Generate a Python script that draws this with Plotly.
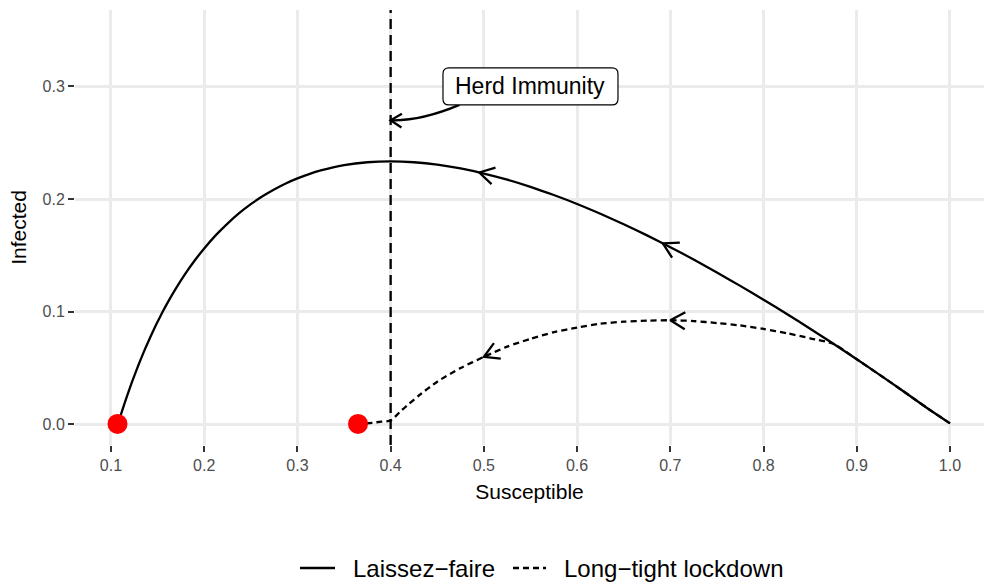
import numpy as np
import plotly.graph_objects as go

# ---------------- data ----------------
S_LF = [1.0, 0.975, 0.95, 0.925, 0.9, 0.875, 0.85, 0.825, 0.8, 0.775, 0.75, 0.725, 0.7,
        0.675, 0.65, 0.625, 0.6, 0.575, 0.55, 0.525, 0.5, 0.475, 0.45, 0.425, 0.4,
        0.375, 0.35, 0.325, 0.3125, 0.3, 0.2875, 0.275, 0.2625, 0.25, 0.2375, 0.225,
        0.2125, 0.2, 0.19, 0.18, 0.17, 0.16, 0.155, 0.15, 0.145, 0.14, 0.135, 0.13,
        0.125, 0.12, 0.115, 0.11, 0.107]
I_LF = [0.001, 0.0149, 0.0295, 0.0438, 0.0579, 0.0716, 0.0850, 0.0981, 0.1107, 0.1230,
        0.1349, 0.1464, 0.1573, 0.1678, 0.1777, 0.1870, 0.1957, 0.2036, 0.2109, 0.2173,
        0.2227, 0.2272, 0.2306, 0.2327, 0.2335, 0.2327, 0.2301, 0.2254, 0.2222, 0.2184,
        0.2139, 0.2086, 0.2025, 0.1955, 0.1875, 0.1783, 0.1680, 0.1562, 0.1457, 0.1341,
        0.1212, 0.1070, 0.0993, 0.0912, 0.0826, 0.0735, 0.0640, 0.0539, 0.0432, 0.0319,
        0.0199, 0.0071, 0.0005]

S_LD = [1.0, 0.975, 0.95, 0.925, 0.9, 0.875, 0.85, 0.825, 0.8, 0.775, 0.75, 0.725, 0.7,
        0.675, 0.65, 0.625, 0.6, 0.575, 0.55, 0.525, 0.5, 0.475, 0.45, 0.43, 0.42, 0.41,
        0.4, 0.39, 0.38, 0.365]
I_LD = [0.001, 0.0149, 0.0295, 0.0438, 0.0579, 0.0716, 0.0765, 0.0810, 0.0848, 0.0879,
        0.0900, 0.0918, 0.0925, 0.0921, 0.0912, 0.0894, 0.0860, 0.0819, 0.0760, 0.0691,
        0.0600, 0.0501, 0.0380, 0.0255, 0.0185, 0.0112, 0.0035, 0.0025, 0.0015, 0.0005]

ARROWS_LF = [0.495, 0.692]
ARROWS_LD = [0.700, 0.500]

SERIES_NAMES = ["Laissez\u2212faire", "Long\u2212tight lockdown"]
HERD_S = 0.4
HERD_LABEL = "Herd Immunity"
HERD_LABEL_POS = (0.55, 0.30)
HERD_TIP_I = 0.27

X_TICKS = [0.1, 0.2, 0.3, 0.4, 0.5, 0.6, 0.7, 0.8, 0.9, 1.0]
X_TICKTEXT = ["0.1", "0.2", "0.3", "0.4", "0.5", "0.6", "0.7", "0.8", "0.9", "1.0"]
Y_TICKS = [0.0, 0.1, 0.2, 0.3]
Y_TICKTEXT = ["0.0", "0.1", "0.2", "0.3"]

# ---------------- layout geometry ----------------
W, H = 984, 587
ML, MR, MT, MB = 75, 0, 10, 142
XR = [0.0614, 1.0365]
YR = [-0.0182, 0.3678]
PW, PH = W - ML - MR, H - MT - MB
SX = PW / (XR[1] - XR[0])   # px per x unit
SY = PH / (YR[1] - YR[0])   # px per y unit
LW = 2.3
DASH_LD = "6px,4px"

FONT = "Liberation Sans, Arial, Helvetica, sans-serif"


def px2paper(px, py):
    return (px - ML) / PW, (H - MB - py) / PH


def interp(S, I, s):
    S = np.asarray(S)
    I = np.asarray(I)
    o = np.argsort(S)
    return float(np.interp(s, S[o], I[o]))


def chevron(tx, ty, bx, by, length=17, angle=30):
    """tip (tx,ty) in data; (bx,by) a point behind the tip along the path."""
    vx = (bx - tx) * SX
    vy = -(by - ty) * SY
    n = np.hypot(vx, vy)
    vx, vy = vx / n, vy / n
    xs, ys = [], []
    for sgn in (1, -1):
        a = np.deg2rad(angle) * sgn
        rx = vx * np.cos(a) - vy * np.sin(a)
        ry = vx * np.sin(a) + vy * np.cos(a)
        xs.append(tx + rx * length / SX)
        ys.append(ty - ry * length / SY)
    return [xs[0], tx, xs[1]], [ys[0], ty, ys[1]]


fig = go.Figure()

# lockdown first (drawn underneath), laissez-faire on top
fig.add_trace(go.Scatter(x=S_LD, y=I_LD, mode="lines", name=SERIES_NAMES[1],
                         showlegend=False,
                         line=dict(color="black", width=LW, dash=DASH_LD,
                                   shape="spline", smoothing=0.6)))
fig.add_trace(go.Scatter(x=S_LF, y=I_LF, mode="lines", name=SERIES_NAMES[0],
                         showlegend=False,
                         line=dict(color="black", width=LW, shape="spline", smoothing=0.6)))

# arrowheads along the trajectories
for S, I, arrows in ((S_LF, I_LF, ARROWS_LF), (S_LD, I_LD, ARROWS_LD)):
    for s in arrows:
        ty = interp(S, I, s)
        by = interp(S, I, s + 0.01)
        cx, cy = chevron(s, ty, s + 0.01, by)
        fig.add_trace(go.Scatter(x=cx, y=cy, mode="lines", showlegend=False,
                                 hoverinfo="skip",
                                 line=dict(color="black", width=LW)))

# end points
fig.add_trace(go.Scatter(x=[S_LF[-1], S_LD[-1]], y=[I_LF[-1], I_LD[-1]],
                         mode="markers", showlegend=False,
                         marker=dict(color="#FF0000", size=20, line=dict(width=0))))

# herd immunity vertical line
fig.add_shape(type="line", xref="x", yref="paper", x0=HERD_S, x1=HERD_S, y0=0, y1=1,
              line=dict(color="black", width=LW, dash="10px,6px"), layer="above")

# curved arrow from label to the threshold line
lx, ly = HERD_LABEL_POS
box_w, box_h, rad = 175, 37, 6
sx0 = lx - 71 / SX
sy0 = ly - (box_h / 2) / SY
cxp = HERD_S + 30 / SX
cyp = HERD_TIP_I - 1 / SY
fig.add_shape(type="path", xref="x", yref="y",
              path=f"M {sx0},{sy0} Q {cxp},{cyp} {HERD_S},{HERD_TIP_I}",
              line=dict(color="black", width=LW), layer="above")
hx, hy = chevron(HERD_S, HERD_TIP_I, cxp, cyp, length=13, angle=32)
fig.add_trace(go.Scatter(x=hx, y=hy, mode="lines", showlegend=False, hoverinfo="skip",
                         line=dict(color="black", width=LW)))

# rounded label box
x0, x1 = lx - box_w / 2 / SX, lx + box_w / 2 / SX
y0, y1 = ly - box_h / 2 / SY, ly + box_h / 2 / SY
rx, ry = rad / SX, rad / SY
path = (f"M {x0+rx},{y1} L {x1-rx},{y1} Q {x1},{y1} {x1},{y1-ry} "
        f"L {x1},{y0+ry} Q {x1},{y0} {x1-rx},{y0} L {x0+rx},{y0} "
        f"Q {x0},{y0} {x0},{y0+ry} L {x0},{y1-ry} Q {x0},{y1} {x0+rx},{y1} Z")
fig.add_shape(type="path", xref="x", yref="y", path=path, fillcolor="white",
              line=dict(color="black", width=1.2), layer="above")
fig.add_annotation(x=lx, y=ly, xref="x", yref="y", text=HERD_LABEL, showarrow=False,
                   font=dict(family=FONT, size=23, color="black"))

# legend (bottom, centred) : key line + label for each series
LEG_Y = 568
legend_items = [  # (key start px, key end px, text start px, dash)
    (300, 335, 352, "solid"),
    (513, 546, 563, DASH_LD),
]
for (k0, k1, t0, dash), name in zip(legend_items, SERIES_NAMES):
    a0, yy = px2paper(k0, LEG_Y)
    a1, _ = px2paper(k1, LEG_Y)
    fig.add_shape(type="line", xref="paper", yref="paper", x0=a0, x1=a1, y0=yy, y1=yy,
                  line=dict(color="black", width=LW, dash=dash))
    tx, _ = px2paper(t0, LEG_Y)
    fig.add_annotation(x=tx, y=yy, xref="paper", yref="paper", text=name,
                       showarrow=False, xanchor="left", yanchor="middle",
                       font=dict(family=FONT, size=24, color="black"), xshift=-1)

axis_common = dict(showgrid=True, gridcolor="#EBEBEB", gridwidth=2.5, zeroline=False,
                   showline=False, ticks="outside", ticklen=6, tickwidth=2,
                   tickcolor="#333333",
                   tickfont=dict(family=FONT, size=16, color="#4D4D4D"))

fig.update_layout(
    width=W, height=H,
    margin=dict(l=ML, r=MR, t=MT, b=MB, pad=0),
    paper_bgcolor="white", plot_bgcolor="white",
    font=dict(family=FONT, color="black"),
    xaxis=dict(range=XR, tickvals=X_TICKS, ticktext=X_TICKTEXT,
               title=dict(text="Susceptible", font=dict(family=FONT, size=21, color="black"),
                          standoff=11),
               automargin=False, **axis_common),
    yaxis=dict(range=YR, tickvals=Y_TICKS, ticktext=Y_TICKTEXT,
               title=dict(text="Infected", font=dict(family=FONT, size=21, color="black"),
                          standoff=10),
               automargin=False, **axis_common),
    showlegend=False,
)

fig.write_html("out.html")
